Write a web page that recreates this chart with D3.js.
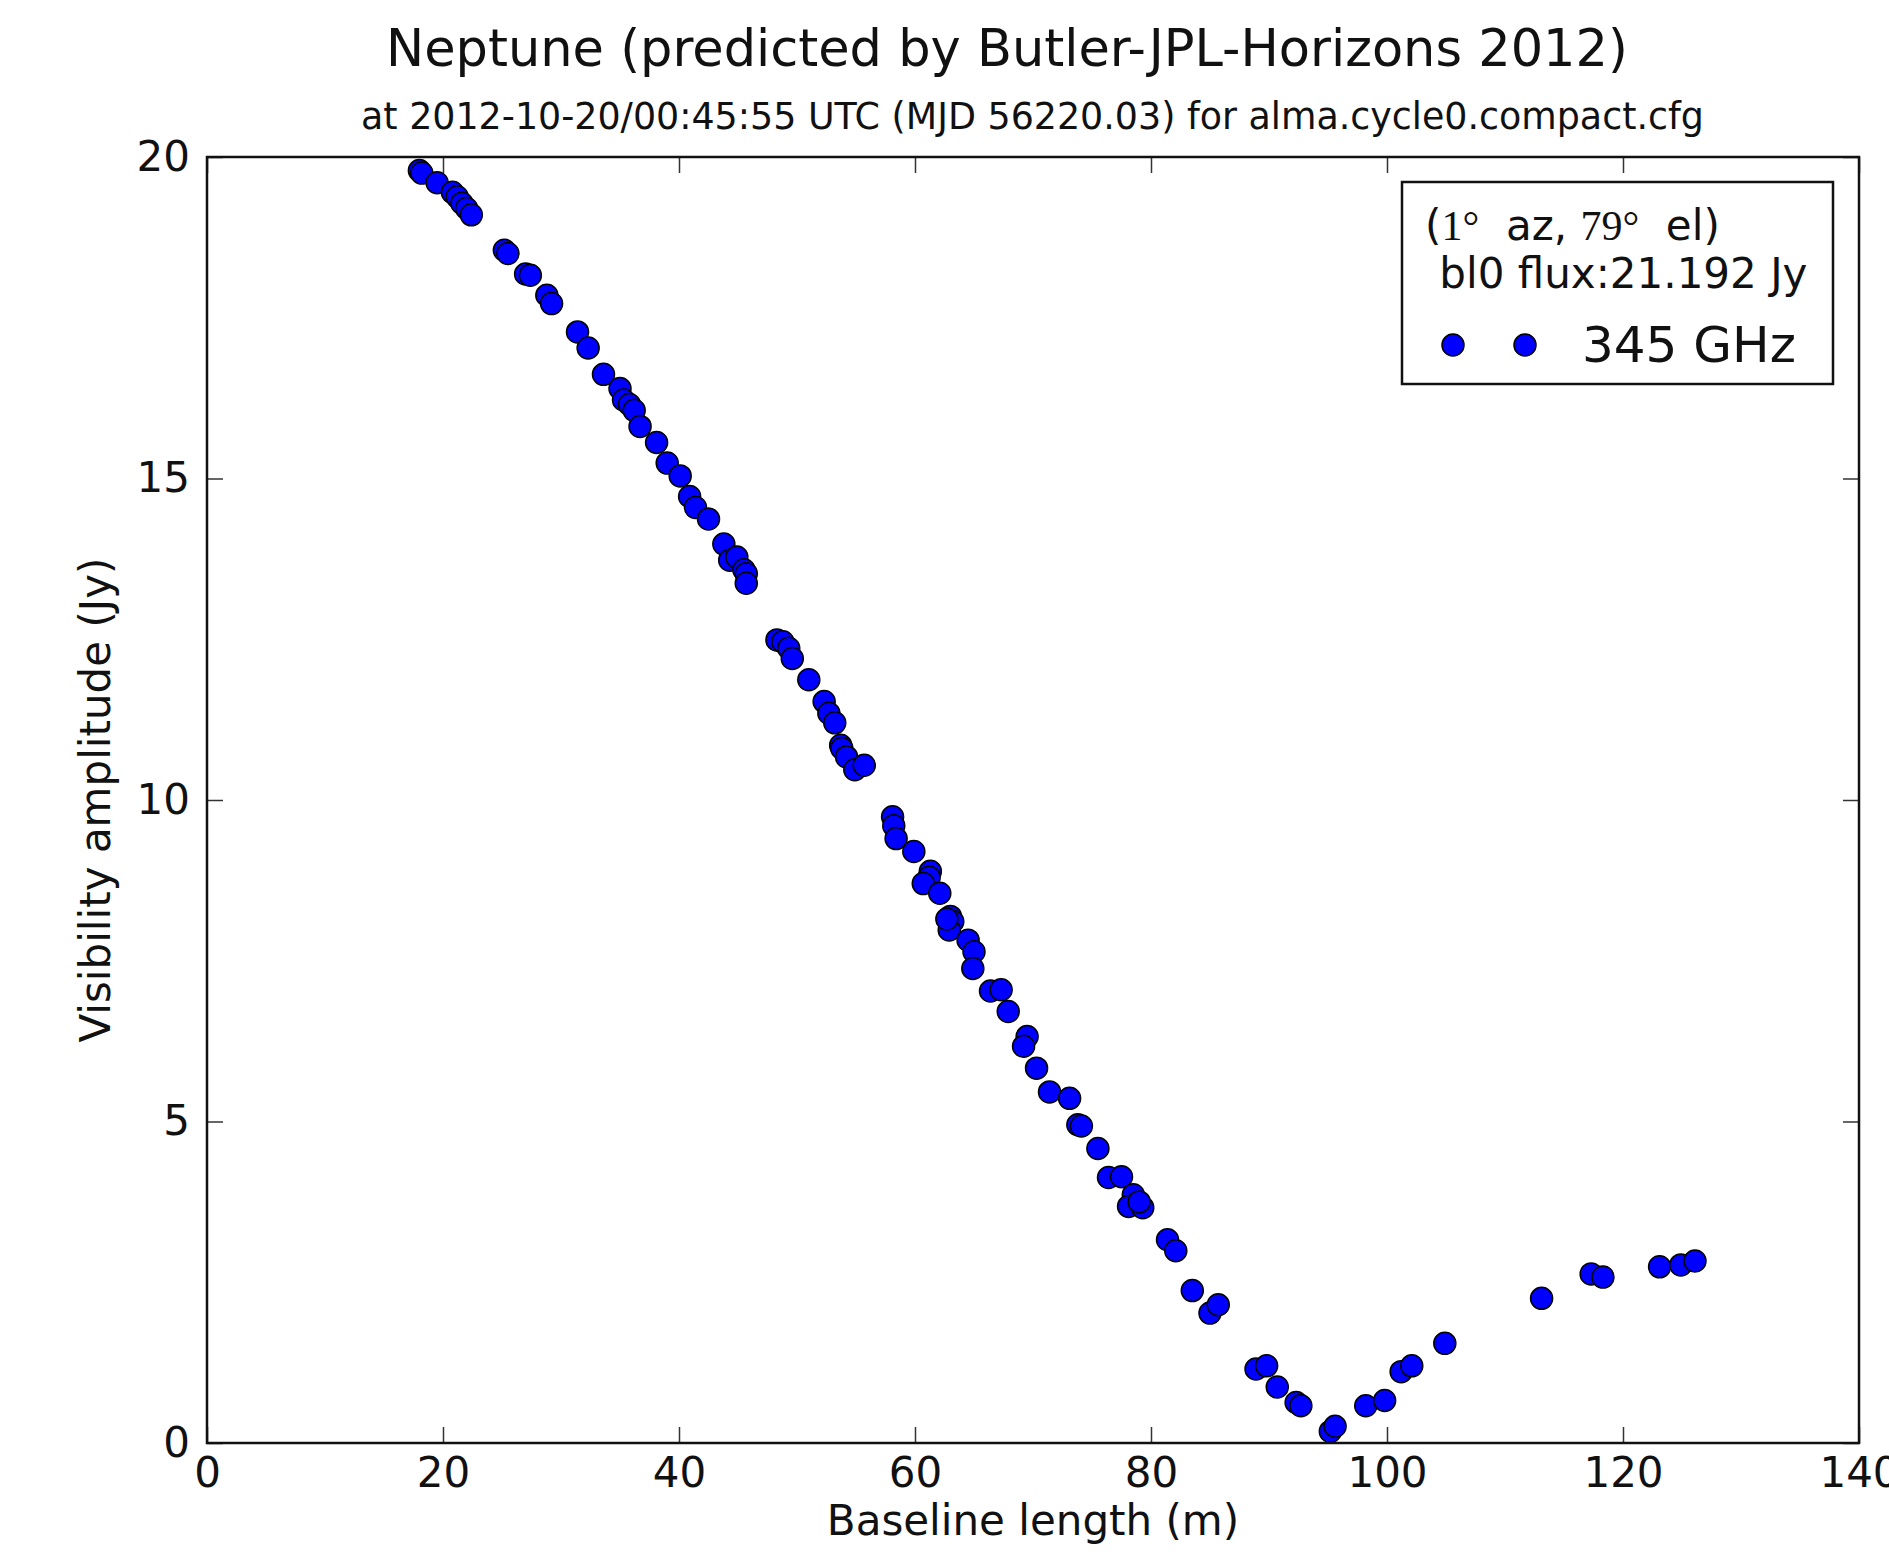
<!DOCTYPE html>
<html>
<head>
<meta charset="utf-8">
<script src="https://cdn.jsdelivr.net/npm/d3@7/dist/d3.min.js"></script>
<style>
  html, body { margin: 0; padding: 0; background: #fff; }
  svg { display: block; }
  text { font-family: "DejaVu Sans", sans-serif; fill: #111; }
</style>
</head>
<body>
<svg id="chart" width="1889" height="1562"></svg>
<script>
// ---- data ----
const title = "Neptune (predicted by Butler-JPL-Horizons 2012)";
const subtitle = "at 2012-10-20/00:45:55 UTC (MJD 56220.03) for alma.cycle0.compact.cfg";
const xLabel = "Baseline length (m)";
const yLabel = "Visibility amplitude (Jy)";
const seriesName = "345 GHz";
const legendLine2 = " bl0 flux:21.192 Jy";
const xTicks = [0, 20, 40, 60, 80, 100, 120, 140];
const yTicks = [0, 5, 10, 15, 20];

const baseline = [
  18.0, 18.2, 19.5, 20.8, 21.2, 21.6, 22.0, 22.4, 25.2, 25.5,
  27.0, 27.4, 28.8, 29.2, 31.4, 32.3, 33.6, 35.0, 35.3, 35.8,
  36.2, 36.7, 38.1, 39.0, 40.1, 40.9, 41.4, 42.5, 43.8, 44.3,
  44.9, 45.5, 45.7, 45.7, 48.3, 48.8, 49.3, 49.6, 51.0, 52.3,
  52.7, 53.2, 53.7, 53.8, 54.2, 54.9, 55.7, 58.1, 58.2, 58.4,
  59.9, 61.3, 61.2, 60.7, 62.1, 63.0, 63.2, 62.9, 62.7, 64.5,
  65.0, 64.9, 66.4, 67.3, 67.9, 69.5, 69.2, 70.3, 71.4, 73.1,
  73.8, 74.1, 75.5, 76.4, 77.5, 78.5, 78.1, 79.3, 79.0, 81.4,
  82.1, 83.5, 85.0, 85.7, 88.9, 89.8, 90.7, 92.3, 92.7, 95.2,
  95.6, 98.2, 99.8, 101.2, 102.1, 104.9, 113.1, 117.3, 118.3, 123.1,
  124.9, 126.1
];
const amplitude = [
  19.79, 19.75, 19.60, 19.45, 19.38, 19.28, 19.20, 19.10, 18.55, 18.50,
  18.18, 18.16, 17.85, 17.72, 17.28, 17.03, 16.62, 16.40, 16.22, 16.15,
  16.06, 15.81, 15.56, 15.24, 15.04, 14.72, 14.55, 14.37, 13.98, 13.73,
  13.78, 13.58, 13.52, 13.37, 12.49, 12.46, 12.36, 12.20, 11.87, 11.53,
  11.35, 11.20, 10.85, 10.80, 10.67, 10.47, 10.54, 9.74, 9.60, 9.40,
  9.20, 8.89, 8.80, 8.70, 8.55, 8.19, 8.11, 7.98, 8.15, 7.82,
  7.64, 7.38, 7.03, 7.05, 6.71, 6.32, 6.17, 5.83, 5.46, 5.36,
  4.95, 4.93, 4.58, 4.13, 4.14, 3.86, 3.68, 3.66, 3.75, 3.16,
  2.99, 2.37, 2.02, 2.15, 1.15, 1.20, 0.87, 0.63, 0.58, 0.18,
  0.26, 0.58, 0.66, 1.11, 1.20, 1.55, 2.25, 2.63, 2.58, 2.74,
  2.77, 2.83
];

// ---- layout ----
const svg = d3.select("#chart");
const pL = 207, pR = 1859, pT = 157, pB = 1443;
const x = d3.scaleLinear().domain([0, 140]).range([pL, pR]);
const y = d3.scaleLinear().domain([0, 20]).range([pB, pT]);
const tickLen = 16;

// titles
svg.append("text").attr("x", 386).attr("y", 66)
  .attr("font-size", 51).text(title);
svg.append("text").attr("x", 361).attr("y", 129)
  .attr("font-size", 36.4).text(subtitle);

// axes
function styleAxis(g) {
  g.select(".domain").remove();
  g.selectAll(".tick line").attr("stroke", "#333").attr("stroke-width", 1.5);
  g.selectAll(".tick text").attr("font-size", 42).attr("fill", "#111")
    .attr("font-family", "DejaVu Sans, sans-serif");
}
svg.append("g").attr("transform", `translate(0,${pB})`)
  .call(d3.axisBottom(x).tickValues(xTicks).tickSizeInner(-tickLen).tickSizeOuter(0).tickPadding(14).tickFormat(d3.format("d")))
  .call(styleAxis);
svg.append("g").attr("transform", `translate(0,${pT})`)
  .call(d3.axisTop(x).tickValues(xTicks).tickSizeInner(-tickLen).tickSizeOuter(0).tickFormat(""))
  .call(styleAxis);
svg.append("g").attr("transform", `translate(${pL},0)`)
  .call(d3.axisLeft(y).tickValues(yTicks).tickSizeInner(-tickLen).tickSizeOuter(0).tickPadding(17).tickFormat(d3.format("d")))
  .call(styleAxis);
svg.append("g").attr("transform", `translate(${pR},0)`)
  .call(d3.axisRight(y).tickValues(yTicks).tickSizeInner(-tickLen).tickSizeOuter(0).tickFormat(""))
  .call(styleAxis);

// points
const pts = baseline.map((b, i) => ({ b, a: amplitude[i] }));
svg.append("g").selectAll("circle").data(pts).join("circle")
  .attr("cx", d => x(d.b)).attr("cy", d => y(d.a)).attr("r", 11)
  .attr("fill", "#0000ff").attr("stroke", "#000").attr("stroke-width", 1.5);

// frame
svg.append("rect").attr("x", pL).attr("y", pT)
  .attr("width", pR - pL).attr("height", pB - pT)
  .attr("fill", "none").attr("stroke", "#111").attr("stroke-width", 2.5);

// axis labels
svg.append("text").attr("x", (pL + pR) / 2).attr("y", 1535)
  .attr("text-anchor", "middle").attr("font-size", 42).text(xLabel);
svg.append("text").attr("transform", `translate(110,${(pT + pB) / 2}) rotate(-90)`)
  .attr("text-anchor", "middle").attr("font-size", 42).text(yLabel);

// legend
const lg = svg.append("g");
lg.append("rect").attr("x", 1402).attr("y", 182).attr("width", 431).attr("height", 202)
  .attr("fill", "#fff").attr("stroke", "#111").attr("stroke-width", 2.5);
const l1 = lg.append("text").attr("x", 1425).attr("y", 240).attr("font-size", 42)
  .style("white-space", "pre");
l1.append("tspan").text("(");
l1.append("tspan").attr("font-family", "Liberation Serif, serif").text("1°");
l1.append("tspan").text("  az, ");
l1.append("tspan").attr("font-family", "Liberation Serif, serif").text("79°");
l1.append("tspan").text("  el)");
lg.append("text").attr("x", 1426).attr("y", 288).attr("font-size", 42)
  .style("white-space", "pre").text(legendLine2);
lg.selectAll("circle.lm").data([1453, 1525]).join("circle").attr("class", "lm")
  .attr("cx", d => d).attr("cy", 345).attr("r", 11)
  .attr("fill", "#0000ff").attr("stroke", "#000").attr("stroke-width", 1.5);
lg.append("text").attr("x", 1582).attr("y", 362).attr("font-size", 50).text(seriesName);
</script>
</body>
</html>
